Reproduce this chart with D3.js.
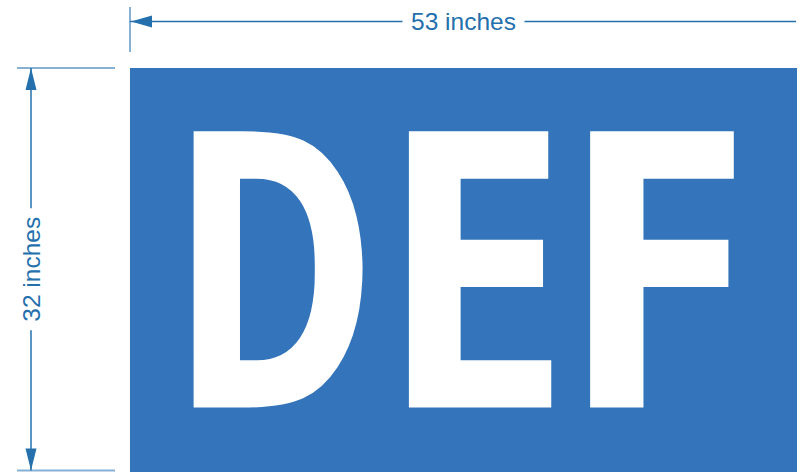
<!DOCTYPE html>
<html>
<head>
<meta charset="utf-8">
<script src="https://cdn.jsdelivr.net/npm/d3@7"></script>
<style>
  body { margin: 0; background: #fff; }
  svg { display: block; }
  .dim-label { font-family: "Liberation Sans", Arial, sans-serif; font-size: 24.5px; fill: #2470ad; }
</style>
</head>
<body>
<svg id="chart" width="805" height="472"></svg>
<script>
// sign size in inches: [width, height]
const sizeInches = [53, 32];
const dimLabels = ["53 inches", "32 inches"];
const letters = ["D", "E", "F"];

const winWidth = 805;
const winHeight = 472;
const panel = { left: 130, top: 68, right: 797, bottom: 470.5 };

// lettering layout in inches: cap line / baseline, and each letter's left/right edge
const capTop = 5, baseline = 27;
const letterSpans = [[5, 18.7], [22.1, 33.5], [36.5, 48]];
const barThin = 4; // px taken off the top and bottom of horizontal strokes

const dimColor = "#2470ad";
const extColor = "#86b0d4";
const signColor = "#3474bb";

/* Scales (inches -> px) */
const x = d3.scaleLinear().domain([0, sizeInches[0]]).range([panel.left, panel.right]);
const y = d3.scaleLinear().domain([0, sizeInches[1]]).range([panel.top, panel.bottom]);

const svg = d3.select("#chart").attr("viewBox", `0 0 ${winWidth} ${winHeight}`);

// vertical-only erosion so the bars come out lighter than the stems
svg.append("defs")
  .append("filter")
  .attr("id", "thin-bars")
  .attr("x", "-5%").attr("y", "-5%")
  .attr("width", "110%").attr("height", "110%")
  .append("feMorphology")
  .attr("operator", "erode")
  .attr("radius", `0.01 ${barThin}`);

// sign panel
svg.append("rect")
  .attr("x", x(0))
  .attr("y", y(0))
  .attr("width", x(sizeInches[0]) - x(0))
  .attr("height", winHeight - y(0))
  .attr("fill", signColor);

// lettering, each glyph fitted to its span using its tight bounds
const fontFamily = '"DejaVu Sans Condensed", "DejaVu Sans", sans-serif';
const fs = 100;
const ctx = document.createElement("canvas").getContext("2d");
ctx.font = `bold ${fs}px ${fontFamily}`;

svg.append("g")
  .attr("filter", "url(#thin-bars)")
  .selectAll("text")
  .data(letters)
  .join("text")
  .attr("transform", function (d, i) {
    const m = ctx.measureText(d);
    const span = letterSpans[i];
    const sx = (x(span[1]) - x(span[0])) / (m.actualBoundingBoxLeft + m.actualBoundingBoxRight);
    const sy = (y(baseline) - y(capTop) + 2 * barThin) / m.actualBoundingBoxAscent;
    return `translate(${x(span[0]) + m.actualBoundingBoxLeft * sx},${y(baseline) + barThin}) scale(${sx},${sy})`;
  })
  .attr("font-family", fontFamily)
  .attr("font-weight", "bold")
  .attr("font-size", fs)
  .attr("fill", "#fff")
  .text(function (d) { return d; });

/* width dimension (top) */
const topY = 21.5;
svg.append("line")
  .attr("x1", x(0)).attr("x2", x(0))
  .attr("y1", 7).attr("y2", 52)
  .attr("stroke", extColor).attr("stroke-width", 2);

svg.append("line")
  .attr("x1", x(0)).attr("x2", x(sizeInches[0]) - 1)
  .attr("y1", topY).attr("y2", topY)
  .attr("stroke", dimColor).attr("stroke-width", 1.5);

svg.append("path")
  .attr("d", `M${x(0) + 1},${topY} L${x(0) + 22},${topY - 6} L${x(0) + 22},${topY + 6} Z`)
  .attr("fill", dimColor);

const topLabel = svg.append("g")
  .attr("transform", `translate(${x(sizeInches[0] / 2)},${topY})`);
topLabel.append("rect")
  .attr("x", -61).attr("y", -12)
  .attr("width", 122).attr("height", 24)
  .attr("fill", "#fff");
topLabel.append("text")
  .attr("class", "dim-label")
  .attr("text-anchor", "middle")
  .attr("dy", "0.36em")
  .text(dimLabels[0]);

/* height dimension (left) */
const leftX = 31;
[0, sizeInches[1]].forEach(function (v) {
  svg.append("line")
    .attr("x1", 17).attr("x2", 115)
    .attr("y1", y(v)).attr("y2", y(v))
    .attr("stroke", extColor).attr("stroke-width", 2);
});

svg.append("line")
  .attr("x1", leftX).attr("x2", leftX)
  .attr("y1", y(0)).attr("y2", y(sizeInches[1]))
  .attr("stroke", dimColor).attr("stroke-width", 1.5);

svg.append("path")
  .attr("d", `M${leftX},${y(0)} L${leftX - 5.5},${y(0) + 22} L${leftX + 5.5},${y(0) + 22} Z`)
  .attr("fill", dimColor);
svg.append("path")
  .attr("d", `M${leftX},${y(sizeInches[1])} L${leftX - 5.5},${y(sizeInches[1]) - 22} L${leftX + 5.5},${y(sizeInches[1]) - 22} Z`)
  .attr("fill", dimColor);

const leftLabel = svg.append("g")
  .attr("transform", `translate(${leftX},${y(sizeInches[1] / 2)}) rotate(-90)`);
leftLabel.append("rect")
  .attr("x", -61).attr("y", -12)
  .attr("width", 122).attr("height", 24)
  .attr("fill", "#fff");
leftLabel.append("text")
  .attr("class", "dim-label")
  .attr("text-anchor", "middle")
  .attr("dy", "0.36em")
  .text(dimLabels[1]);
</script>
</body>
</html>
